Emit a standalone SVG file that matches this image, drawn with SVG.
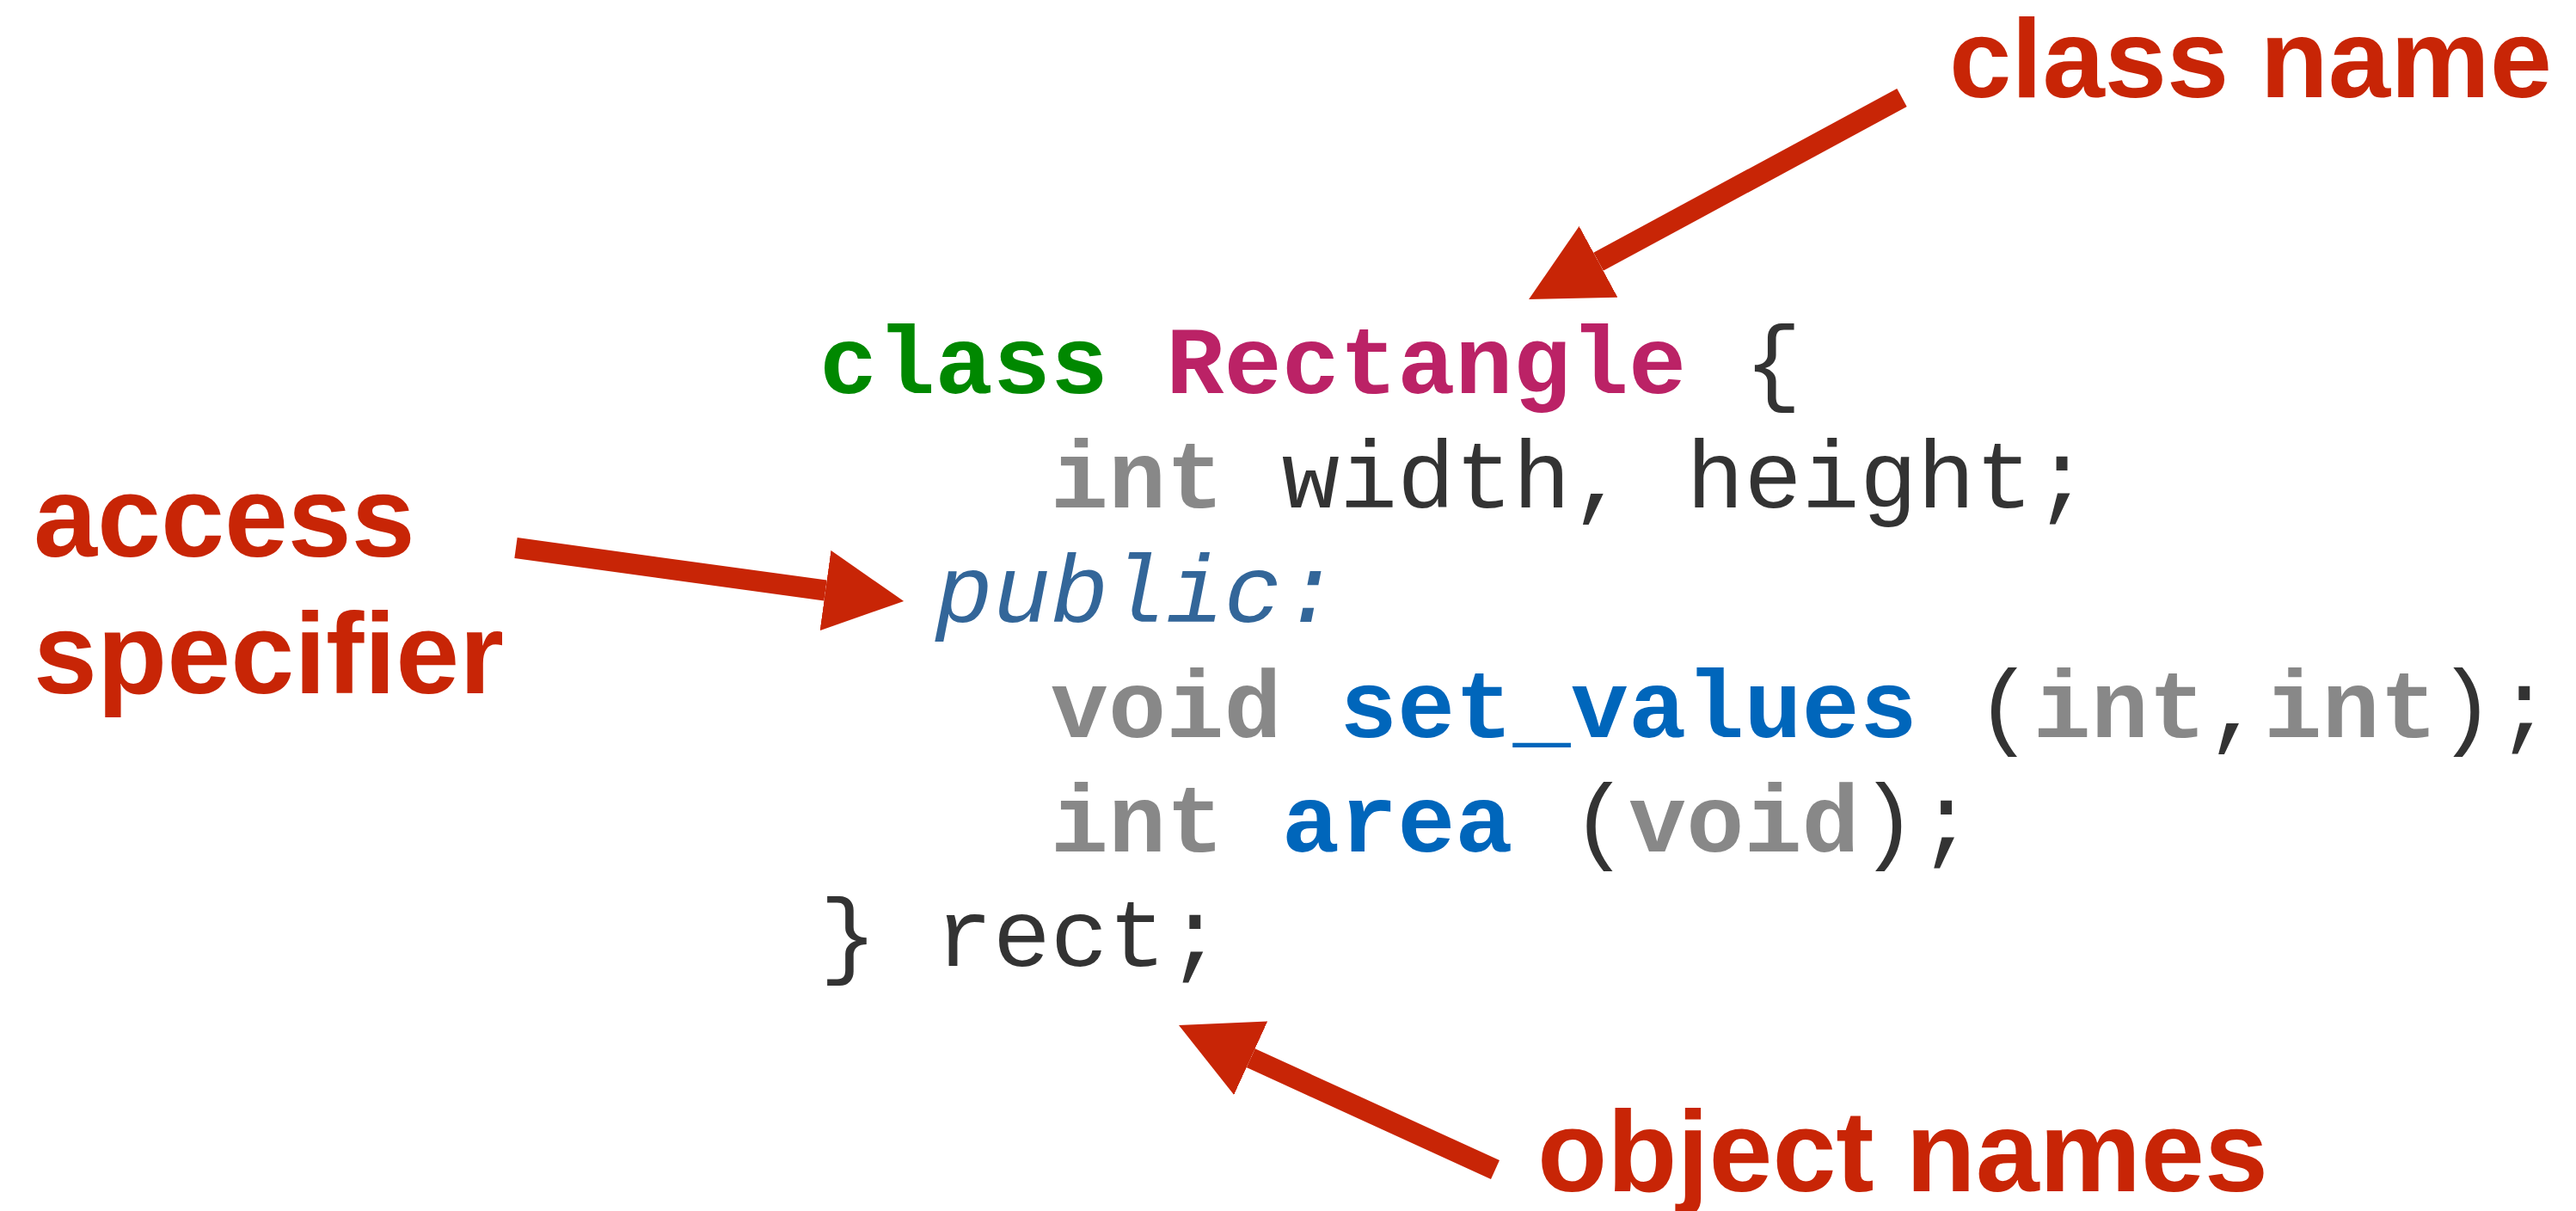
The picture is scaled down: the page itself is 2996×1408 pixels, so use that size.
<svg xmlns="http://www.w3.org/2000/svg" width="2996" height="1408" viewBox="0 0 2996 1408">
<style>
.code{font-family:"Liberation Mono","Courier New",monospace;font-size:112px;fill:#333333;white-space:pre}
.kw{fill:#008800;font-weight:bold}
.cls{fill:#bb2266;font-weight:bold}
.ty{fill:#888888;font-weight:bold}
.fn{fill:#0066bb;font-weight:bold}
.acc{fill:#336699;font-style:italic}
.lbl{font-family:"Liberation Sans",Arial,Helvetica,sans-serif;font-weight:bold;font-size:133px;fill:#c82506}
.arrow{stroke:#c82506;stroke-width:24;fill:none;marker-end:url(#head)}
</style>
<defs>
<marker id="head" markerUnits="userSpaceOnUse" markerWidth="92" markerHeight="94" refX="0" refY="47" orient="auto" viewBox="0 0 92 94">
<path d="M0,0 L92,47 L0,94 Z" fill="#c82506"/>
</marker>
</defs>
<rect width="2996" height="1408" fill="#ffffff"/>
<g id="code">
<text id="line1" class="code" x="953" y="457" xml:space="preserve"><tspan class="kw">class</tspan> <tspan class="cls">Rectangle</tspan> {</text>
<text id="line2" class="code" x="953" y="590" xml:space="preserve">    <tspan class="ty">int</tspan> width, height;</text>
<text id="line3" class="code" x="953" y="723" xml:space="preserve">  <tspan class="acc">public:</tspan></text>
<text id="line4" class="code" x="953" y="857" xml:space="preserve">    <tspan class="ty">void</tspan> <tspan class="fn">set_values</tspan> (<tspan class="ty">int</tspan>,<tspan class="ty">int</tspan>);</text>
<text id="line5" class="code" x="953" y="990" xml:space="preserve">    <tspan class="ty">int</tspan> <tspan class="fn">area</tspan> (<tspan class="ty">void</tspan>);</text>
<text id="line6" class="code" x="953" y="1123" xml:space="preserve">} rect;</text>
</g>
<g id="label-class-name"><text class="lbl" x="2267" y="113" style="font-size:130px">class name</text></g>
<g id="label-access-specifier"><text class="lbl" x="39" y="647">access</text><text class="lbl" x="39" y="806">specifier</text></g>
<g id="label-object-names"><text class="lbl" x="1788" y="1385">object names</text></g>
<g id="connectors">
<line class="arrow" x1="2212" y1="113.5" x2="1859" y2="304.3"/>
<line class="arrow" x1="600" y1="637" x2="960" y2="686.5"/>
<line class="arrow" x1="1739" y1="1360" x2="1454.7" y2="1230.2"/>
</g>
</svg>
